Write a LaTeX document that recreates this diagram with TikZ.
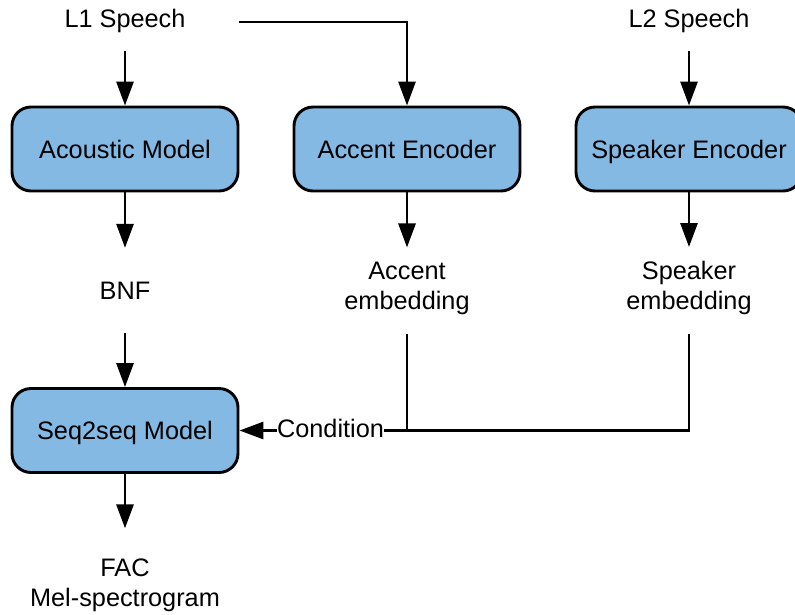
\documentclass[tikz,border=0pt]{standalone}
\usepackage{fontspec}
\setmainfont{Liberation Sans}
\usetikzlibrary{arrows.meta}
\definecolor{boxblue}{RGB}{131,185,227}
\begin{document}
\begin{tikzpicture}[x=1pt,y=-1pt,
  font=\fontsize{25.3}{30}\selectfont,
  block/.style={draw, line width=2.9pt, fill=boxblue, rounded corners=19pt,
    minimum width=226pt, minimum height=84pt, inner sep=0pt,
    text height=18pt, text depth=0pt},
  word/.style={inner sep=0pt, text height=18pt, text depth=5pt},
  lines/.style={inner sep=0pt, align=center},
  link/.style={line width=2.9pt},
  flow/.style={link, -{Triangle[length=24pt,width=17pt]}}]
\useasboundingbox (0,0) rectangle (795,614);

% inputs
\node[word, anchor=base] (l1) at (125,27) {L1 Speech};
\node[word, anchor=base] (l2) at (689,27) {L2 Speech};

% processing blocks
\node[block] (am) at (125,149) {Acoustic Model};
\node[block] (ae) at (407,149) {Accent Encoder};
\node[block] (se) at (689,149) {Speaker Encoder};
\node[block] (s2s) at (125,430.5) {Seq2seq Model};

% intermediate features
\node[word, anchor=base] (bnf) at (125,299) {BNF};
\node[lines] (aemb) at (407,288) {Accent\\embedding};
\node[lines] (semb) at (689,288) {Speaker\\embedding};
\node[word, anchor=base] (cond) at (330.5,437) {Condition};
\node[lines] (out) at (125,585) {FAC\\Mel-spectrogram};

% connectors
\draw[flow, shorten <=19pt] (l1) -- (am);
\draw[flow, shorten <=53pt] ([yshift=-1.5pt]l1.east) -| (ae.north);
\draw[flow, shorten <=19pt] (l2) -- (se);
\draw[flow, shorten >=33pt] (am) -- (bnf);
\draw[flow, shorten >=14pt] (ae) -- (aemb);
\draw[flow, shorten >=14pt] (se) -- (semb);
\draw[flow, shorten <=29pt] (bnf) -- (s2s);
\draw[link, shorten <=19pt] (aemb.south) |- (cond.east);
\draw[link, shorten <=19pt] (semb.south) |- (cond.east);
\draw[flow] (cond.west) -- (s2s.east);
\draw[flow, shorten >=30pt] (s2s) -- (out);
\end{tikzpicture}
\end{document}
